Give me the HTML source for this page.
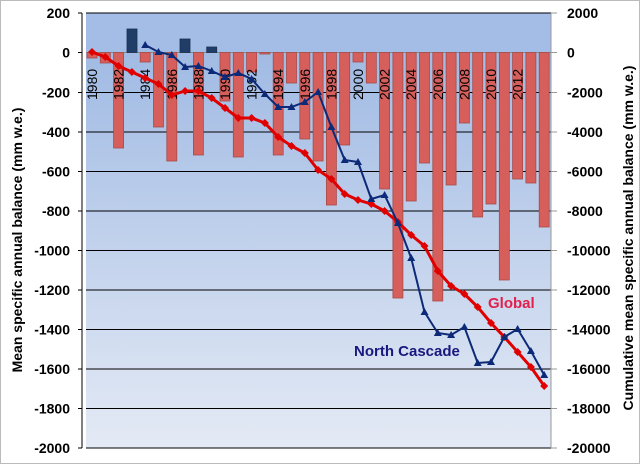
<!DOCTYPE html>
<html><head><meta charset="utf-8"><style>
html,body{margin:0;padding:0;background:#fff}
svg{display:block;font-family:"Liberation Sans",sans-serif}
</style></head><body>
<svg width="640" height="464" viewBox="0 0 640 464">
<defs>
<linearGradient id="bg" x1="0" y1="0" x2="0" y2="1">
<stop offset="0" stop-color="#9ab6e2"/><stop offset="1" stop-color="#e4eaf5"/>
</linearGradient>
<g id="dm"><path d="M0,-4 L4,0 L0,4 L-4,0Z" fill="#e00000"/></g>
<g id="tr"><path d="M0,-4 L4,3 L-4,3Z" fill="#0d2a78"/></g>
</defs>
<rect x="0.5" y="0.5" width="639" height="463" fill="#fff" stroke="#bbb"/>
<rect x="86" y="13" width="465" height="435" fill="url(#bg)"/>
<rect x="86" y="13" width="465" height="39.5" fill="#a3bde6"/>
<g stroke="#000" stroke-width="1">
<line x1="86" x2="551" y1="92.5" y2="92.5"/><line x1="86" x2="551" y1="132" y2="132"/>
<line x1="86" x2="551" y1="171.5" y2="171.5"/><line x1="86" x2="551" y1="211" y2="211"/>
<line x1="86" x2="551" y1="250.5" y2="250.5"/><line x1="86" x2="551" y1="290" y2="290"/>
<line x1="86" x2="551" y1="329.5" y2="329.5"/><line x1="86" x2="551" y1="369" y2="369"/>
<line x1="86" x2="551" y1="408.5" y2="408.5"/><line x1="86" x2="551" y1="448" y2="448"/>
<line x1="86" x2="551" y1="13" y2="13"/>
</g>
<line x1="86" x2="551" y1="52.5" y2="52.5" stroke="#888" stroke-width="1"/>
<g stroke="#000"><line x1="82" x2="82" y1="13" y2="448"/></g>
<g stroke="#000"><line x1="78" x2="82" y1="13" y2="13"/><line x1="78" x2="82" y1="52.5" y2="52.5"/><line x1="78" x2="82" y1="92.5" y2="92.5"/><line x1="78" x2="82" y1="132" y2="132"/><line x1="78" x2="82" y1="171.5" y2="171.5"/><line x1="78" x2="82" y1="211" y2="211"/><line x1="78" x2="82" y1="250.5" y2="250.5"/><line x1="78" x2="82" y1="290" y2="290"/><line x1="78" x2="82" y1="329.5" y2="329.5"/><line x1="78" x2="82" y1="369" y2="369"/><line x1="78" x2="82" y1="408.5" y2="408.5"/><line x1="78" x2="82" y1="448" y2="448"/></g>
<g stroke="#999"><line x1="551" x2="551" y1="13" y2="448"/><line x1="551" x2="557" y1="13" y2="13"/><line x1="551" x2="557" y1="52.5" y2="52.5"/><line x1="551" x2="557" y1="92.5" y2="92.5"/><line x1="551" x2="557" y1="132" y2="132"/><line x1="551" x2="557" y1="171.5" y2="171.5"/><line x1="551" x2="557" y1="211" y2="211"/><line x1="551" x2="557" y1="250.5" y2="250.5"/><line x1="551" x2="557" y1="290" y2="290"/><line x1="551" x2="557" y1="329.5" y2="329.5"/><line x1="551" x2="557" y1="369" y2="369"/><line x1="551" x2="557" y1="408.5" y2="408.5"/><line x1="551" x2="557" y1="448" y2="448"/></g>
<g fill="#d65f5c" stroke="#a84a48" stroke-width="0.8">
<rect x="87" y="52.5" width="10" height="5.5"/><rect x="100.3" y="52.5" width="10" height="10.5"/><rect x="113.6" y="52.5" width="10" height="95.5"/>
<rect x="140.2" y="52.5" width="10" height="9.5"/><rect x="153.5" y="52.5" width="10" height="74.5"/><rect x="166.8" y="52.5" width="10" height="108.5"/>
<rect x="193.4" y="52.5" width="10" height="102.5"/><rect x="220" y="52.5" width="10" height="48.5"/><rect x="233.3" y="52.5" width="10" height="104.5"/>
<rect x="246.6" y="52.5" width="10" height="19.5"/><rect x="259.9" y="52.5" width="10" height="1.5"/><rect x="273.2" y="52.5" width="10" height="102.5"/>
<rect x="286.5" y="52.5" width="10" height="30.5"/><rect x="299.8" y="52.5" width="10" height="86.5"/><rect x="313.1" y="52.5" width="10" height="108.5"/>
<rect x="326.4" y="52.5" width="10" height="152.5"/><rect x="339.7" y="52.5" width="10" height="92.5"/><rect x="353" y="52.5" width="10" height="9.5"/>
<rect x="366.3" y="52.5" width="10" height="30.5"/><rect x="379.6" y="52.5" width="10" height="136.5"/><rect x="392.9" y="52.5" width="10" height="245.5"/>
<rect x="406.2" y="52.5" width="10" height="148.5"/><rect x="419.5" y="52.5" width="10" height="110.5"/><rect x="432.8" y="52.5" width="10" height="248.5"/>
<rect x="446.1" y="52.5" width="10" height="132.5"/><rect x="459.4" y="52.5" width="10" height="70.5"/><rect x="472.7" y="52.5" width="10" height="164.5"/>
<rect x="486" y="52.5" width="10" height="151.5"/><rect x="499.3" y="52.5" width="10" height="227.5"/><rect x="512.6" y="52.5" width="10" height="126.5"/>
<rect x="525.9" y="52.5" width="10" height="130.5"/><rect x="539.2" y="52.5" width="10" height="174.5"/>
</g>
<g fill="#1f3d66" stroke="#18304f" stroke-width="0.8">
<rect x="127" y="29" width="10" height="23.5"/><rect x="180" y="39" width="10" height="13.5"/><rect x="206.7" y="47" width="10" height="5.5"/>
</g>
<g font-size="14" fill="#000">
<text transform="translate(97,100) rotate(-90)">1980</text><text transform="translate(123.6,100) rotate(-90)">1982</text>
<text transform="translate(150.2,100) rotate(-90)">1984</text><text transform="translate(176.8,100) rotate(-90)">1986</text>
<text transform="translate(203.4,100) rotate(-90)">1988</text><text transform="translate(230,100) rotate(-90)">1990</text>
<text transform="translate(256.6,100) rotate(-90)">1992</text><text transform="translate(283.2,100) rotate(-90)">1994</text>
<text transform="translate(309.8,100) rotate(-90)">1996</text><text transform="translate(336.4,100) rotate(-90)">1998</text>
<text transform="translate(363,100) rotate(-90)">2000</text><text transform="translate(389.6,100) rotate(-90)">2002</text>
<text transform="translate(416.2,100) rotate(-90)">2004</text><text transform="translate(442.8,100) rotate(-90)">2006</text>
<text transform="translate(469.4,100) rotate(-90)">2008</text><text transform="translate(496,100) rotate(-90)">2010</text>
<text transform="translate(522.6,100) rotate(-90)">2012</text>
</g>
<polyline fill="none" stroke="#e00000" stroke-width="3" points="92,52 105.3,57 118.6,66 131.9,72 145.2,78 158.5,84 171.8,95 185.1,91 198.4,91 211.7,98 225,108 238.3,118 251.6,118 264.9,123 278.2,137 291.5,146 304.8,153 318.1,170 331.4,179 344.7,194 358,200 371.3,204 384.6,211 397.9,222 411.2,235 424.5,246 437.8,271 451.1,286 464.4,294 477.7,307 491,323 504.3,337 517.6,352 530.9,367 544.2,386"/>
<g>
<use href="#dm" x="92" y="52"/><use href="#dm" x="105.3" y="57"/><use href="#dm" x="118.6" y="66"/><use href="#dm" x="131.9" y="72"/><use href="#dm" x="145.2" y="78"/><use href="#dm" x="158.5" y="84"/><use href="#dm" x="171.8" y="95"/><use href="#dm" x="185.1" y="91"/><use href="#dm" x="198.4" y="91"/><use href="#dm" x="211.7" y="98"/><use href="#dm" x="225" y="108"/><use href="#dm" x="238.3" y="118"/><use href="#dm" x="251.6" y="118"/><use href="#dm" x="264.9" y="123"/><use href="#dm" x="278.2" y="137"/><use href="#dm" x="291.5" y="146"/><use href="#dm" x="304.8" y="153"/><use href="#dm" x="318.1" y="170"/><use href="#dm" x="331.4" y="179"/><use href="#dm" x="344.7" y="194"/><use href="#dm" x="358" y="200"/><use href="#dm" x="371.3" y="204"/><use href="#dm" x="384.6" y="211"/><use href="#dm" x="397.9" y="222"/><use href="#dm" x="411.2" y="235"/><use href="#dm" x="424.5" y="246"/><use href="#dm" x="437.8" y="271"/><use href="#dm" x="451.1" y="286"/><use href="#dm" x="464.4" y="294"/><use href="#dm" x="477.7" y="307"/><use href="#dm" x="491" y="323"/><use href="#dm" x="504.3" y="337"/><use href="#dm" x="517.6" y="352"/><use href="#dm" x="530.9" y="367"/><use href="#dm" x="544.2" y="386"/>
</g>
<polyline fill="none" stroke="#0d2a78" stroke-width="2" points="145.2,45 158.5,52 171.8,55 185.1,67 198.4,66 211.7,71 225,77 238.3,73 251.6,79 264.9,94 278.2,107 291.5,107 304.8,102 318.1,92 331.4,127 344.7,160 358,162 371.3,199 384.6,195 397.9,223 411.2,258 424.5,312 437.8,333 451.1,335 464.4,327 477.7,363 491,362 504.3,337 517.6,329 530.9,351 544.2,375"/>
<g>
<use href="#tr" x="145.2" y="45"/><use href="#tr" x="158.5" y="52"/><use href="#tr" x="171.8" y="55"/><use href="#tr" x="185.1" y="67"/><use href="#tr" x="198.4" y="66"/><use href="#tr" x="211.7" y="71"/><use href="#tr" x="225" y="77"/><use href="#tr" x="238.3" y="73"/><use href="#tr" x="251.6" y="79"/><use href="#tr" x="264.9" y="94"/><use href="#tr" x="278.2" y="107"/><use href="#tr" x="291.5" y="107"/><use href="#tr" x="304.8" y="102"/><use href="#tr" x="318.1" y="92"/><use href="#tr" x="331.4" y="127"/><use href="#tr" x="344.7" y="160"/><use href="#tr" x="358" y="162"/><use href="#tr" x="371.3" y="199"/><use href="#tr" x="384.6" y="195"/><use href="#tr" x="397.9" y="223"/><use href="#tr" x="411.2" y="258"/><use href="#tr" x="424.5" y="312"/><use href="#tr" x="437.8" y="333"/><use href="#tr" x="451.1" y="335"/><use href="#tr" x="464.4" y="327"/><use href="#tr" x="477.7" y="363"/><use href="#tr" x="491" y="362"/><use href="#tr" x="504.3" y="337"/><use href="#tr" x="517.6" y="329"/><use href="#tr" x="530.9" y="351"/><use href="#tr" x="544.2" y="375"/>
</g>
<text x="488" y="308" font-size="15" font-weight="bold" fill="#e2204c">Global</text>
<text x="354" y="356" font-size="15" font-weight="bold" fill="#18187e">North Cascade</text>
<g font-size="14" font-weight="bold" text-anchor="end" fill="#000">
<text x="70" y="18">200</text><text x="70" y="57.5">0</text><text x="70" y="97.5">-200</text><text x="70" y="137">-400</text><text x="70" y="176.5">-600</text><text x="70" y="216">-800</text><text x="70" y="255.5">-1000</text><text x="70" y="295">-1200</text><text x="70" y="334.5">-1400</text><text x="70" y="374">-1600</text><text x="70" y="413.5">-1800</text><text x="70" y="453">-2000</text>
</g>
<g font-size="14" font-weight="bold" fill="#000">
<text x="567" y="18">2000</text><text x="567" y="57.5">0</text><text x="567" y="97.5">-2000</text><text x="567" y="137">-4000</text><text x="567" y="176.5">-6000</text><text x="567" y="216">-8000</text><text x="567" y="255.5">-10000</text><text x="567" y="295">-12000</text><text x="567" y="334.5">-14000</text><text x="567" y="374">-16000</text><text x="567" y="413.5">-18000</text><text x="567" y="453">-20000</text>
</g>
<text transform="translate(22,240) rotate(-90)" font-size="14" font-weight="bold" text-anchor="middle">Mean specific annual balance (mm w.e.)</text>
<text transform="translate(633,238) rotate(-90)" font-size="14" font-weight="bold" text-anchor="middle">Cumulative mean specific annual balance (mm w.e.)</text>
</svg>
</body></html>
